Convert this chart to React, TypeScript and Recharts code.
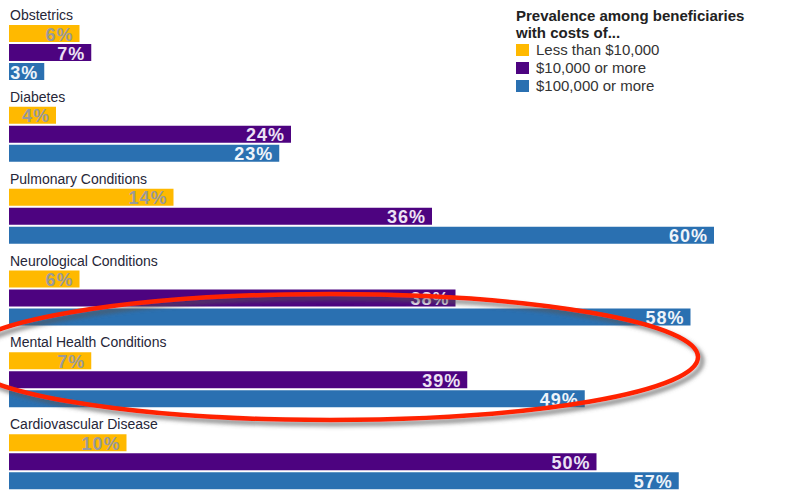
import { Bar, BarChart, LabelList, Legend, XAxis, YAxis } from "recharts";

const categories = [
  "Obstetrics",
  "Diabetes",
  "Pulmonary Conditions",
  "Neurological Conditions",
  "Mental Health Conditions",
  "Cardiovascular Disease",
];
const lessThan10k = [6, 4, 14, 6, 7, 10];
const over10k = [7, 24, 36, 38, 39, 50];
const over100k = [3, 23, 60, 58, 49, 57];
const seriesOrder = ["low", "mid", "high"];

const data = categories.map((category, i) => ({
  category,
  low: lessThan10k[i],
  mid: over10k[i],
  high: over100k[i],
}));

const YELLOW = "#ffb900";
const PURPLE = "#4d0380";
const BLUE = "#2a70b1";

const valueLabel = (color: string) => (props: any) => {
  const { x, y, width, height, value } = props;
  return (
    <text
      x={x + width - 6}
      y={y + height / 2 + 1}
      textAnchor="end"
      dominantBaseline="central"
      fill={color}
      fontSize={18}
      fontWeight={700}
      letterSpacing={1}
      fontFamily="Liberation Sans, Arial, sans-serif"
    >
      {value}%
    </text>
  );
};

const categoryLabel = (props: any) => {
  const { x, y, value } = props;
  return (
    <text
      x={x + 1}
      y={y - 5}
      fill="#262638"
      fontSize={14}
      fontFamily="Liberation Sans, Arial, sans-serif"
    >
      {value}
    </text>
  );
};

const LegendBox = ({ payload }: any) => {
  const items = [...(payload || [])].sort(
    (a: any, b: any) => seriesOrder.indexOf(a.dataKey) - seriesOrder.indexOf(b.dataKey)
  );
  return (
    <div style={{ fontFamily: "Liberation Sans, Arial, sans-serif", color: "#333" }}>
      <div style={{ fontWeight: 700, fontSize: 15, lineHeight: "17px", color: "#222" }}>
        Prevalence among beneficiaries
        <br />
        with costs of...
      </div>
      {items.map((p: any) => (
        <div
          key={p.value}
          style={{ display: "flex", alignItems: "center", fontSize: 15, lineHeight: "18px" }}
        >
          <span
            style={{
              display: "inline-block",
              width: 13,
              height: 12,
              background: p.color,
              marginRight: 7,
            }}
          />
          {p.value}
        </div>
      ))}
    </div>
  );
};

export default function App() {
  return (
    <div
      style={{
        position: "absolute",
        top: 0,
        left: 0,
        width: 796,
        height: 491,
        overflow: "hidden",
        background: "#fff",
      }}
    >
      <BarChart
        width={796}
        height={503}
        data={data}
        layout="vertical"
        margin={{ top: 12, right: 82, bottom: 0, left: 9 }}
        barSize={17}
        barGap={2}
      >
        <XAxis type="number" domain={[0, 60]} hide />
        <YAxis type="category" dataKey="category" hide />
        <Legend
          layout="vertical"
          align="center"
          verticalAlign="middle"
          content={<LegendBox />}
          wrapperStyle={{ position: "absolute", top: 7, left: 516, width: 280 }}
        />
        <Bar dataKey="low" name="Less than $10,000" fill={YELLOW} isAnimationActive={false}>
          <LabelList dataKey="low" content={valueLabel("#9a9a9a")} />
          <LabelList dataKey="category" content={categoryLabel} />
        </Bar>
        <Bar dataKey="mid" name="$10,000 or more" fill={PURPLE} isAnimationActive={false}>
          <LabelList dataKey="mid" content={valueLabel("#ece2f4")} />
        </Bar>
        <Bar dataKey="high" name="$100,000 or more" fill={BLUE} isAnimationActive={false}>
          <LabelList dataKey="high" content={valueLabel("#eef4fa")} />
        </Bar>
      </BarChart>
      <svg
        width={796}
        height={491}
        style={{ position: "absolute", top: 0, left: 0, pointerEvents: "none" }}
      >
        <defs>
          <filter id="shadow" x="-10%" y="-30%" width="120%" height="160%">
            <feDropShadow dx="4" dy="4" stdDeviation="2" floodColor="#555" floodOpacity="0.7" />
          </filter>
        </defs>
        <ellipse
          cx={330}
          cy={357}
          rx={368}
          ry={63}
          fill="none"
          stroke="#ff2200"
          strokeWidth={4.5}
          filter="url(#shadow)"
        />
      </svg>
    </div>
  );
}
